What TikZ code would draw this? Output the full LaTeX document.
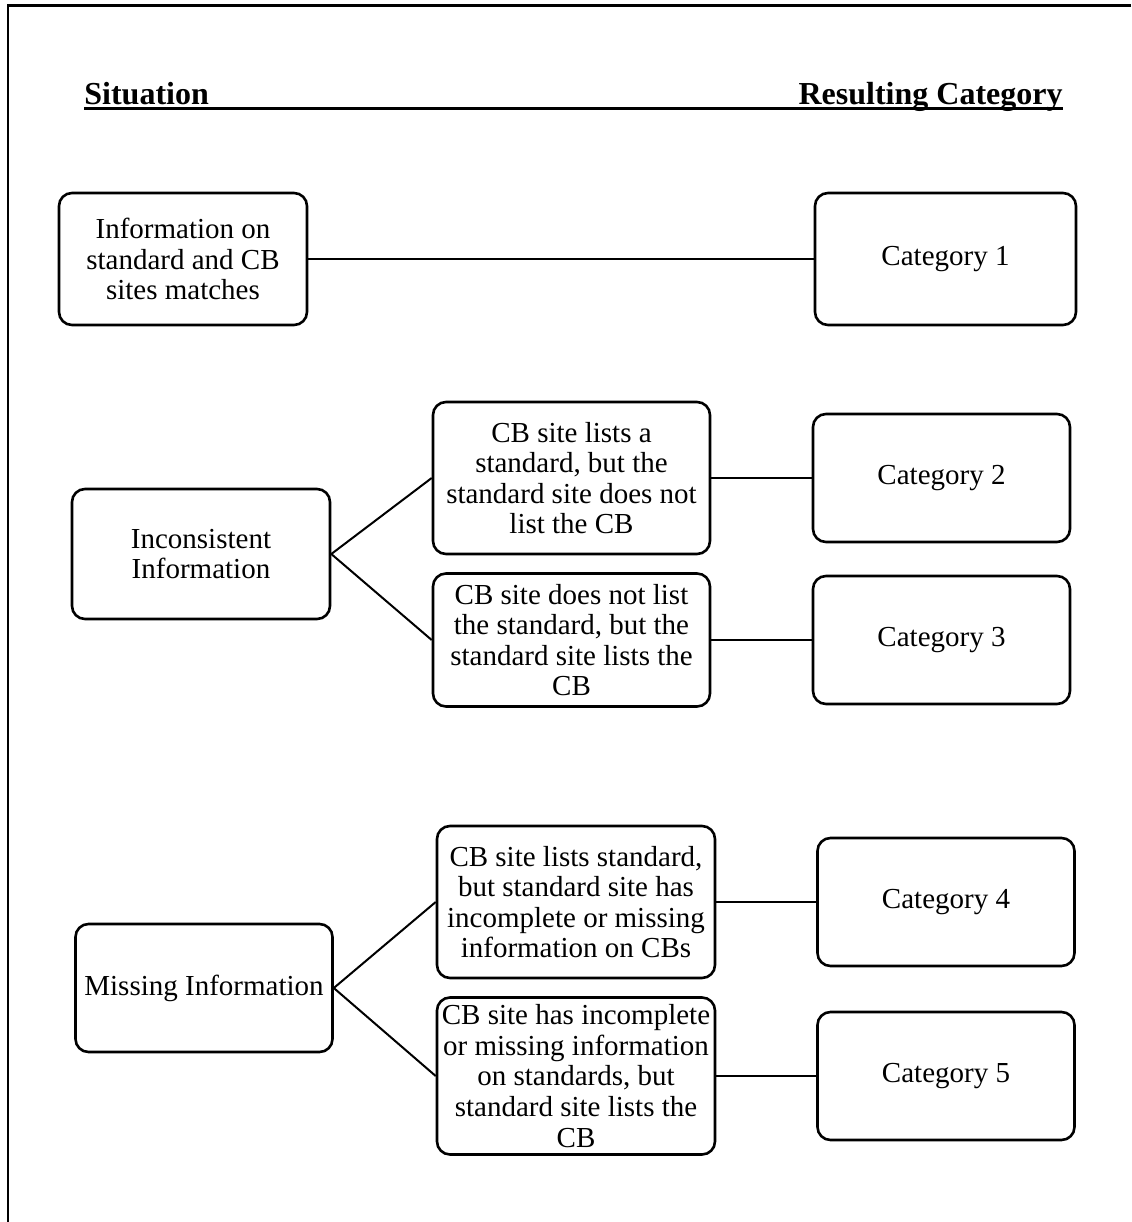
\documentclass[tikz,border=0pt]{standalone}
\usepackage{fontspec}
\setmainfont{Liberation Serif}

\begin{document}
\begin{tikzpicture}[x=0.5pt,y=-0.5pt]
\tikzstyle{sitbox}=[rectangle, rounded corners=6.5pt, draw=black, line width=1.3pt, align=center, inner sep=0pt, font=\fontsize{14.5pt}{15.3pt}\selectfont]
\tikzstyle{catbox}=[sitbox, minimum width=128.5pt, minimum height=64pt]
\tikzstyle{head}=[inner sep=0pt, font=\fontsize{16pt}{18pt}\selectfont\bfseries]
\tikzstyle{connect}=[line width=1pt]
\tikzstyle{frame}=[line width=1.3pt]

\useasboundingbox (0,0) rectangle (1131,1222);
\draw[frame] (1131,5.5) -- (8,5.5) -- (8,1222);

\node[head, anchor=base west] (sit) at (84,104) {Situation};
\node[head, anchor=base east] (res) at (1063,104) {Resulting Category};
\draw[line width=1.6pt] ([yshift=-2.2pt]sit.base west) -- ([yshift=-2.2pt]res.base east);

\node[sitbox, minimum width=124pt, minimum height=66pt] (match) at (183,259) {Information on\\standard and CB\\sites matches};
\node[catbox, minimum width=130.5pt, minimum height=66pt] (cat1) at (945.5,259) {Category 1};

\node[sitbox, minimum width=129pt, minimum height=65pt] (incons) at (201,554) {Inconsistent\\Information};
\node[sitbox, minimum width=138.5pt, minimum height=76pt] (sub1) at (571.5,478) {CB site lists a\\standard, but the\\standard site does not\\list the CB};
\node[sitbox, minimum width=138.5pt, minimum height=66.5pt] (sub2) at (571.5,640) {CB site does not list\\the standard, but the\\standard site lists the\\CB};
\node[catbox] (cat2) at (941.5,478) {Category 2};
\node[catbox] (cat3) at (941.5,640) {Category 3};

\node[sitbox, minimum width=128.5pt, minimum height=64pt] (missing) at (204,988) {Missing Information};
\node[sitbox, minimum width=139pt, minimum height=76pt] (sub3) at (576,902) {CB site lists standard,\\but standard site has\\incomplete or missing\\information on CBs};
\node[sitbox, minimum width=139pt, minimum height=78.5pt] (sub4) at (576,1076) {CB site has incomplete\\or missing information\\on standards, but\\standard site lists the\\CB};
\node[catbox] (cat4) at (946,902) {Category 4};
\node[catbox] (cat5) at (946,1076) {Category 5};

\path[connect]
	(match) edge (cat1)
	(incons.east) edge (sub1.west)
	(incons.east) edge (sub2.west)
	(sub1) edge (cat2)
	(sub2) edge (cat3)
	(missing.east) edge (sub3.west)
	(missing.east) edge (sub4.west)
	(sub3) edge (cat4)
	(sub4) edge (cat5);

\end{tikzpicture}
\end{document}
